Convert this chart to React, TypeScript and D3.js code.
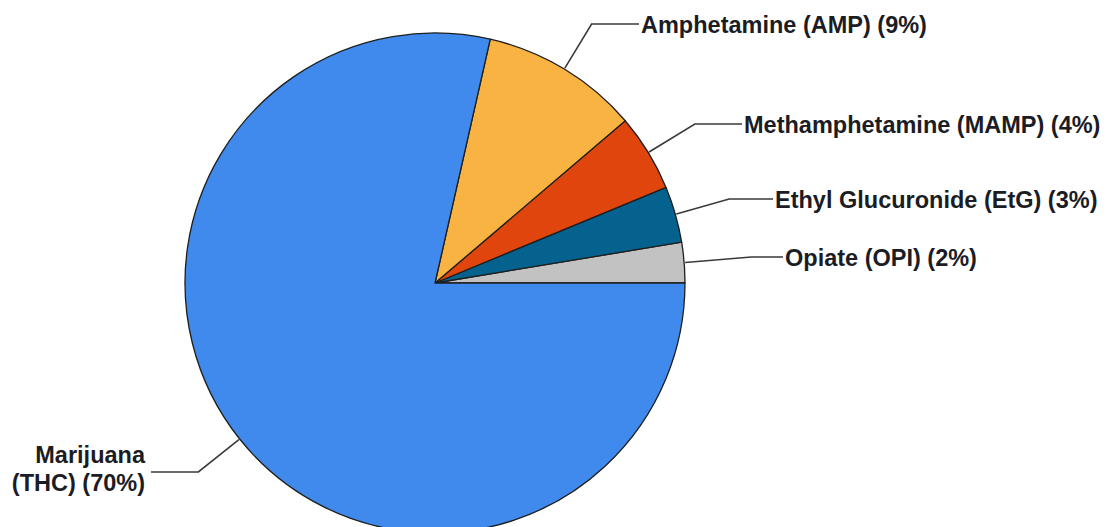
import React from "react";
import * as d3 from "d3";

const categories = [
  "Opiate (OPI)",
  "Ethyl Glucuronide (EtG)",
  "Methamphetamine (MAMP)",
  "Amphetamine (AMP)",
  "Marijuana (THC)",
];
const sliceValues = [2.3, 3.2, 4.4, 9.0, 69.2];
const percentLabels = ["2%", "3%", "4%", "9%", "70%"];
const colors = ["#C2C2C2", "#05628F", "#E0450D", "#F9B342", "#3F8AEC"];

// label layout (leader end y and text x)
const labelY = [257, 199, 124, 24, 472];
const labelX = [785, 775, 744, 641, 147];

const W = 1110;
const H = 527;
const cx = 435;
const cy = 283;
const R = 250;

export default function App() {
  const pie = d3
    .pie<number>()
    .sort(null)
    .startAngle(Math.PI / 2)
    .endAngle(Math.PI / 2 - 2 * Math.PI);
  const arcs = pie(sliceValues);
  const arc = d3.arc<d3.PieArcDatum<number>>().innerRadius(0).outerRadius(R);

  const font = "'Liberation Sans', Arial, sans-serif";

  return (
    <svg
      width={W}
      height={H}
      style={{ position: "absolute", left: 0, top: 0, background: "#fff" }}
    >
      <g transform={`translate(${cx},${cy})`}>
        {arcs.map((a, i) => (
          <path
            key={i}
            d={arc(a) || ""}
            fill={colors[i]}
            stroke="#1e1e1e"
            strokeWidth={1.3}
            strokeLinejoin="round"
          />
        ))}
      </g>
      {arcs.map((a, i) => {
        const mid = (a.startAngle + a.endAngle) / 2;
        // d3 angle: 0 at 12 o'clock, clockwise
        const ux = Math.sin(mid);
        const uy = -Math.cos(mid);
        const x0 = cx + ux * (R + 1);
        const y0 = cy + uy * (R + 1);
        const ly = labelY[i];
        const t = (ly - cy) / uy;
        const ex = cx + ux * t;
        const right = ux >= 0;
        const tx = labelX[i];
        const lineEnd = right ? tx - 2 : tx + 4;
        const pts = `${x0},${y0} ${ex},${ly} ${lineEnd},${ly}`;
        return (
          <g key={i}>
            <polyline
              points={pts}
              fill="none"
              stroke="#3a3a3a"
              strokeWidth={1.6}
            />
            {right ? (
              <text
                x={tx}
                y={ly + 8.5}
                fontFamily={font}
                fontWeight="bold"
                fontSize={23.5}
                fill="#1c1c24"
              >
                {`${categories[i]} (${percentLabels[i]})`}
              </text>
            ) : (
              <text
                x={tx}
                y={ly}
                fontFamily={font}
                fontWeight="bold"
                fontSize={23.5}
                fill="#1c1c24"
                textAnchor="end"
              >
                <tspan x={tx - 2} y={ly - 9}>
                  {categories[i].split(" ")[0]}
                </tspan>
                <tspan x={tx - 2} y={ly + 19}>
                  {`${categories[i].split(" ").slice(1).join(" ")} (${percentLabels[i]})`}
                </tspan>
              </text>
            )}
          </g>
        );
      })}
    </svg>
  );
}
